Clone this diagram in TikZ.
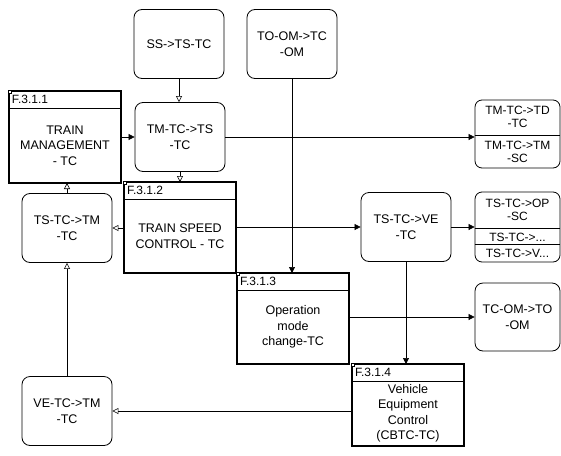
\documentclass[tikz,border=0pt]{standalone}
\usepackage{fontspec}
\setmainfont{Liberation Sans}
\usetikzlibrary{positioning, arrows.meta}

\begin{document}
\begin{tikzpicture}[x=1pt, y=-1pt, font=\fontsize{12.5}{16}\selectfont,
  msgbox/.style={draw, line width=0.8pt, rounded corners=8pt, align=center, minimum width=90pt, minimum height=69pt, inner sep=2pt},
  outbox/.style={draw, line width=0.8pt, rounded corners=7pt, minimum width=85pt, inner sep=0pt},
  outtext/.style={font=\fontsize{12}{13}\selectfont, align=center, inner sep=0pt},
  fnhead/.style={anchor=north west, minimum width=112pt, minimum height=17pt, text width=106pt, inner xsep=3pt, inner ysep=0pt, outer sep=0pt, align=left, font=\fontsize{12}{13}\selectfont},
  fnbody/.style={minimum width=112pt, align=center, inner sep=2pt, outer sep=0pt, font=\fontsize{12.5}{15.5}\selectfont},
  fnframe/.style={line width=1.3pt},
  flow/.style={line width=0.6pt, -{Triangle[open, length=6pt, width=6pt]}},
  flowfill/.style={line width=0.6pt, -{Triangle[length=6pt, width=6pt]}}]
  \useasboundingbox (0,0) rectangle (561,455);

  % function blocks
  \foreach \x/\y/\h/\nm/\id/\txt in {
    9/91/75/f1/F.3.1.1/{TRAIN\\MANAGEMENT\\- TC},
    124/182/74/f2/F.3.1.2/{TRAIN SPEED\\CONTROL - TC},
    237/273/74/f3/F.3.1.3/{Operation\\mode\\change-TC},
    352/364/65/f4/F.3.1.4/{Vehicle\\Equipment\\Control\\(CBTC-TC)}}{
    \node[fnhead] (\nm-h) at (\x,\y) {\id};
    \node[fnbody, minimum height=\h pt, below=0pt of \nm-h] (\nm) {\txt};
    \draw[fnframe] (\nm-h.north west) rectangle (\nm.south east);
    \draw[line width=0.6pt] (\nm-h.south west) -- (\nm-h.south east);
    \draw[line width=0.4pt, fill=white] ([shift={(-1,-1)}]\nm-h.north west) rectangle ++(3,3);
  }

  % messages
  \foreach \x/\y/\nm/\txt in {
    179/44/ss/{SS->TS-TC},
    292/44/toom/{TO-OM->TC\\-OM},
    180/137/tmts/{TM-TC->TS\\-TC},
    67/228/tstm/{TS-TC->TM\\-TC},
    67/411/vetm/{VE-TC->TM\\-TC},
    406/227/tsve/{TS-TC->VE\\-TC}}{
    \node[msgbox] (\nm) at (\x,\y) {\txt};
  }
  \node[msgbox, minimum width=85pt, minimum height=68pt] (tcto) at (517.5,317) {TC-OM->TO\\-OM};

  % outgoing groups
  \node[outbox, minimum height=68pt] (tmout) at (517.5,134) {};
  \draw[line width=0.8pt] ([yshift=-1pt]tmout.west) -- ([yshift=-1pt]tmout.east);
  \node[outtext] (tmouta) at (517.5,117) {TM-TC->TD\\-TC};
  \node[outtext] (tmoutb) at (517.5,152) {TM-TC->TM\\-SC};

  \node[outbox, minimum height=70pt] (tsout) at (517.5,227) {};
  \draw[line width=0.8pt] ([yshift=-37pt]tsout.north west) -- ([yshift=-37pt]tsout.north east);
  \draw[line width=0.8pt] ([yshift=-53pt]tsout.north west) -- ([yshift=-53pt]tsout.north east);
  \node[outtext] (tsouta) at (517.5,210) {TS-TC->OP\\-SC};
  \node[outtext] (tsoutb) at (517.5,237) {TS-TC->...};
  \node[outtext] (tsoutc) at (517.5,253.5) {TS-TC->V...};

  % flows
  \draw[flow] (ss.south) -- (ss.south |- tmts.north);
  \draw[flowfill] (f1.east |- tmts.west) -- (tmts.west);
  \draw[flow] (tmts.south) -- (tmts.south |- f2-h.north);
  \draw[flowfill] (tmts.east) -- (tmts.east -| tmout.west);
  \draw[flowfill] (toom.south) -- (toom.south |- f3-h.north);
  \draw[flowfill] (f2.east |- tsve.west) -- (tsve.west);
  \draw[flow] (f2.west |- tstm.east) -- (tstm.east);
  \draw[flow] (tstm.north) -- (tstm.north |- f1.south);
  \draw[flowfill] (tsve.east) -- (tsve.east -| tsout.west);
  \draw[flowfill] (tsve.south) -- (tsve.south |- f4-h.north);
  \draw[flowfill] (f3.east |- tcto.west) -- (tcto.west);
  \draw[flow] (f4.west |- vetm.east) -- (vetm.east);
  \draw[flow] (vetm.north) -- (tstm.south);
\end{tikzpicture}
\end{document}
